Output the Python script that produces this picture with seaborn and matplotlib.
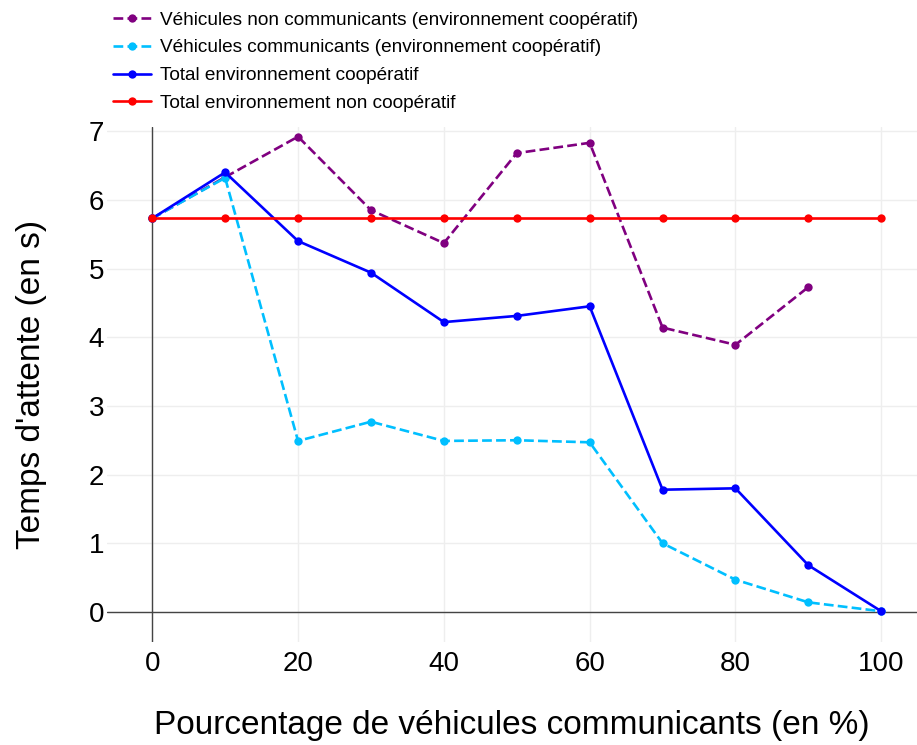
import numpy as np
import pandas as pd
import matplotlib
matplotlib.use("Agg")
import matplotlib.pyplot as plt
import seaborn as sns

# --- données ---
pourcentage = [0, 10, 20, 30, 40, 50, 60, 70, 80, 90, 100]
non_communicants = [5.73, 6.33, 6.92, 5.85, 5.37, 6.68, 6.83, 4.14, 3.89, 4.73, np.nan]
communicants = [5.73, 6.32, 2.49, 2.77, 2.49, 2.50, 2.47, 1.00, 0.47, 0.14, 0.01]
total_coop = [5.73, 6.40, 5.40, 4.94, 4.22, 4.31, 4.45, 1.78, 1.80, 0.68, 0.01]
total_non_coop = [5.73] * 11

series = [
    ("Véhicules non communicants (environnement coopératif)", non_communicants, "#800080", "--"),
    ("Véhicules communicants (environnement coopératif)", communicants, "#00bfff", "--"),
    ("Total environnement coopératif", total_coop, "#0000ff", "-"),
    ("Total environnement non coopératif", total_non_coop, "#ff0000", "-"),
]

sns.set_theme(style="white")
plt.rcParams['font.family'] = ['Liberation Sans', 'DejaVu Sans']
plt.rcParams['text.color'] = 'black'
plt.rcParams['axes.labelcolor'] = 'black'

fig = plt.figure(figsize=(9.17, 7.45), dpi=100)
ax = fig.add_axes([0.1167, 0.138, 0.8833, 0.6915])

for nom, valeurs, couleur, style in series:
    df = pd.DataFrame({"x": pourcentage, "y": valeurs}).dropna()
    sns.lineplot(data=df, x="x", y="y", ax=ax, color=couleur, linestyle=style,
                 linewidth=1.9, marker="o", markersize=6, markeredgewidth=0,
                 label=nom, zorder=3)

ax.set_xlim(-6.2, 104.9)
ax.set_ylim(-0.44, 7.06)
ax.set_xticks([0, 20, 40, 60, 80, 100])
ax.set_yticks(range(0, 8))
ax.grid(True, color="#eeeeee", linewidth=1)
ax.axhline(0, color="#444444", linewidth=1, zorder=2)
ax.axvline(0, color="#444444", linewidth=1, zorder=2)
for s in ax.spines.values():
    s.set_visible(False)
ax.tick_params(axis="x", labelsize=20, length=0, pad=6, colors="black")
ax.tick_params(axis="y", labelsize=20, length=0, pad=2, colors="black")

ax.set_xlabel("Pourcentage de véhicules communicants (en %)", fontsize=24, labelpad=24, color="black")
ax.set_ylabel("Temps d'attente (en s)", fontsize=24, labelpad=30, color="black")

ax.get_legend().remove()
h, l = ax.get_legend_handles_labels()
fig.legend(h, l, loc="upper left", bbox_to_anchor=(0.115, 0.995), frameon=False,
           fontsize=13.7, handlelength=2.0, handletextpad=0.45, labelspacing=0.55,
           borderaxespad=0, labelcolor="black")

fig.savefig("out.png", dpi=100)
